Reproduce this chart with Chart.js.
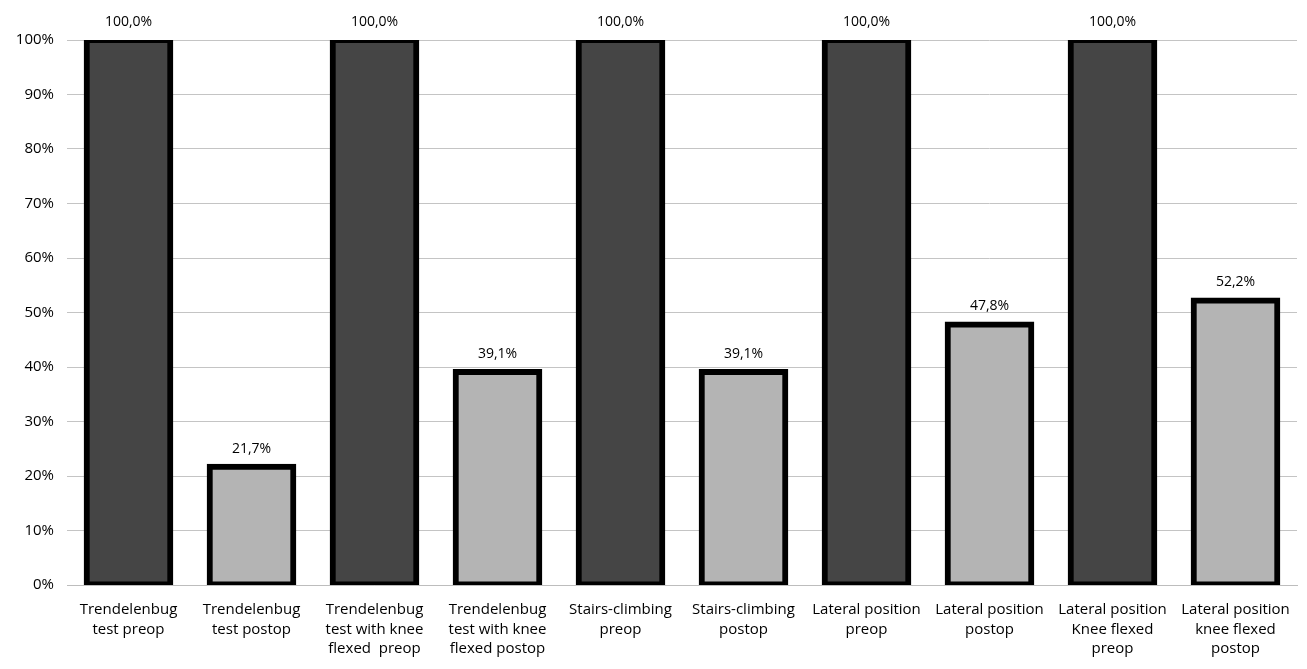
<!DOCTYPE html>
<html>
<head>
<meta charset="utf-8">
<script src="https://cdn.jsdelivr.net/npm/chart.js@4/dist/chart.umd.min.js"></script>
<style>
  html, body { margin: 0; padding: 0; background: #fff; }
  #wrap { width: 1307px; height: 669px; position: relative; }
</style>
</head>
<body>
<div id="wrap"><canvas id="c"></canvas></div>
<script>
// Test results, share of positive findings (%)
const categories = [
  ["Trendelenbug", "test preop"],
  ["Trendelenbug", "test postop"],
  ["Trendelenbug", "test with knee", "flexed  preop"],
  ["Trendelenbug", "test with knee", "flexed postop"],
  ["Stairs-climbing", "preop"],
  ["Stairs-climbing", "postop"],
  ["Lateral position", "preop"],
  ["Lateral position", "postop"],
  ["Lateral position", "Knee flexed", "preop"],
  ["Lateral position", "knee flexed", "postop"]
];
const values = [100.0, 21.7, 100.0, 39.1, 100.0, 39.1, 100.0, 47.8, 100.0, 52.2];
const phases = ["preop", "postop", "preop", "postop", "preop", "postop", "preop", "postop", "preop", "postop"];
const yTicks = [0, 10, 20, 30, 40, 50, 60, 70, 80, 90, 100];

const phaseColor = { preop: "#454545", postop: "#b4b4b4" };
const FONT = "'Open Sans', Lato, sans-serif";

// Value labels above each bar, e.g. "21,7%"
const valueLabels = {
  id: "valueLabels",
  afterDatasetsDraw(chart) {
    const ctx = chart.ctx;
    const meta = chart.getDatasetMeta(0);
    ctx.save();
    ctx.font = "14px " + FONT;
    ctx.fillStyle = "#000";
    ctx.textAlign = "center";
    ctx.textBaseline = "middle";
    meta.data.forEach((bar, i) => {
      const txt = values[i].toFixed(1).replace(".", ",") + "%";
      ctx.fillText(txt, bar.x, bar.y - 18);
    });
    ctx.restore();
  }
};

new Chart(document.getElementById("c"), {
  type: "bar",
  data: {
    labels: categories,
    datasets: [{
      data: values,
      backgroundColor: phases.map(p => phaseColor[p]),
      borderColor: "#000",
      borderWidth: 6,
      borderSkipped: false,
      inflateAmount: 3,
      barPercentage: 0.68,
      categoryPercentage: 1.0
    }]
  },
  options: {
    responsive: true,
    maintainAspectRatio: false,
    animation: false,
    layout: { padding: { top: 40, right: 10, bottom: 0, left: 0 } },
    plugins: { legend: { display: false }, tooltip: { enabled: false } },
    scales: {
      x: {
        grid: { display: false, drawTicks: false },
        border: { display: true, color: "#bdbdbd", width: 1 },
        ticks: {
          color: "#000",
          font: { family: FONT, size: 15, lineHeight: 1.3 },
          padding: 15,
          maxRotation: 0,
          autoSkip: false
        },
        afterFit(scale) { scale.height = 84; }
      },
      y: {
        min: 0,
        max: 100,
        afterBuildTicks(scale) { scale.ticks = yTicks.map(v => ({ value: v })); },
        grid: { color: "#c4c4c4", lineWidth: 1, drawTicks: false },
        border: { display: false },
        ticks: {
          color: "#000",
          font: { family: FONT, size: 15 },
          padding: 13,
          callback: v => v + "%"
        },
        afterFit(scale) { scale.width = 67; }
      }
    }
  },
  plugins: [valueLabels]
});
</script>
</body>
</html>
